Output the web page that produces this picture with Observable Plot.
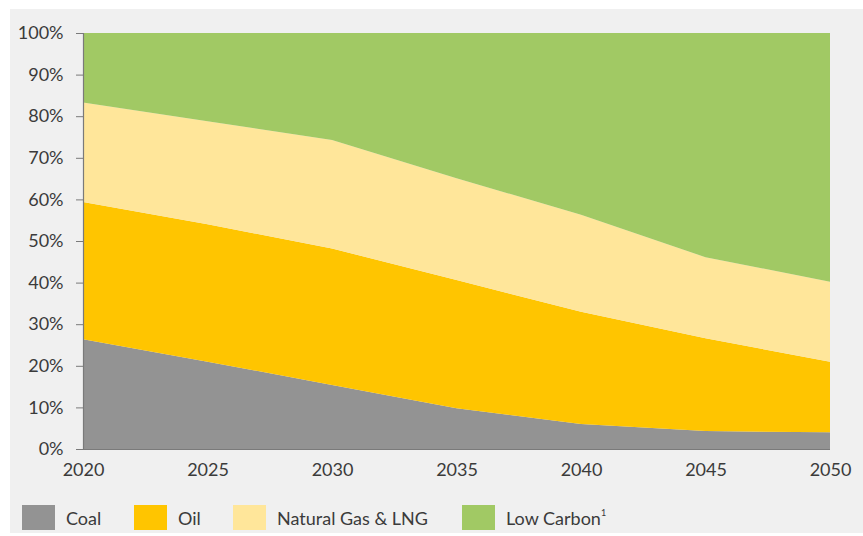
<!DOCTYPE html>
<html>
<head>
<meta charset="utf-8">
<script src="https://cdn.jsdelivr.net/npm/d3@7"></script>
<script src="https://cdn.jsdelivr.net/npm/@observablehq/plot@0.6"></script>
<style>
  html, body { margin: 0; padding: 0; background: #ffffff; }
  body { width: 863px; height: 536px; position: relative; overflow: hidden;
         font-family: "Lato", "Open Sans", sans-serif; }
  #panel { position: absolute; left: 10px; top: 9px; width: 853px; height: 524px; background: #f0f0f0; }
  #chart { position: absolute; left: 0; top: 0; }
  #legend { position: absolute; left: 0; top: 496px; height: 25px; width: 853px; }
  .item { position: absolute; top: 0; height: 25px; display: flex; align-items: center;
          font-size: 18px; color: #3b3b3b; white-space: nowrap; }
  .sw { width: 33px; height: 25px; margin-right: 11px; flex: none; }
  .item sup { font-size: 9px; position: relative; top: -2px; }
</style>
</head>
<body>
<div id="panel">
  <div id="chart"></div>
  <div id="legend"></div>
</div>
<script>
// Share of primary energy by source, percent
const years = [2020, 2025, 2030, 2035, 2040, 2045, 2050];
const coal = [26.4, 21.0, 15.4, 9.8, 6.0, 4.3, 4.0];
const oil = [33.0, 33.0, 32.8, 30.8, 27.0, 22.3, 17.0];
const gas = [23.9, 24.8, 26.1, 24.5, 23.3, 19.5, 19.2];
const lowCarbon = [16.7, 21.2, 25.7, 34.9, 43.7, 53.9, 59.8];

const sources = ["Coal", "Oil", "Natural Gas & LNG", "Low Carbon"];
const colors = ["#939393", "#ffc500", "#ffe69a", "#a1c964"];
const yTicks = [0, 10, 20, 30, 40, 50, 60, 70, 80, 90, 100];
const xTicks = [2020, 2025, 2030, 2035, 2040, 2045, 2050];

const seriesValues = [coal, oil, gas, lowCarbon];
const rows = [];
sources.forEach((s, i) => {
  years.forEach((yr, j) => rows.push({ year: yr, source: s, value: seriesValues[i][j] }));
});

const chart = Plot.plot({
  width: 853,
  height: 490,
  marginLeft: 73,
  marginRight: 33,
  marginTop: 24,
  marginBottom: 50,
  style: { background: "transparent", fontFamily: "Lato, 'Open Sans', sans-serif", fontSize: "18px", color: "#3b3b3b" },
  x: { domain: [2020, 2050], label: null, ticks: xTicks, tickFormat: d => String(d), tickSize: 0, tickPadding: 14 },
  y: { domain: [0, 100], label: null, ticks: yTicks, tickFormat: d => d + "%", tickSize: 7, tickPadding: 13 },
  color: { domain: sources, range: colors },
  marks: [
    Plot.areaY(rows, { x: "year", y: "value", fill: "source", order: sources }),
    Plot.ruleX([2020], { stroke: "#7a7a7a", strokeWidth: 1.2 }),
    Plot.ruleY([0], { stroke: "#7a7a7a", strokeWidth: 1.2 })
  ]
});
chart.querySelectorAll("g[aria-label='y-axis tick'] path, g[aria-label='y-axis tick']").forEach(el => el.setAttribute("stroke", "#7a7a7a"));
document.getElementById("chart").appendChild(chart);

// Legend
const legendX = [12, 124, 223, 452];
const legend = document.getElementById("legend");
sources.forEach((s, i) => {
  const item = document.createElement("div");
  item.className = "item";
  item.style.left = legendX[i] + "px";
  const sw = document.createElement("div");
  sw.className = "sw";
  sw.style.background = colors[i];
  item.appendChild(sw);
  const label = document.createElement("span");
  label.textContent = s;
  if (s === "Low Carbon") {
    const sup = document.createElement("sup");
    sup.textContent = "1";
    label.appendChild(sup);
  }
  item.appendChild(label);
  legend.appendChild(item);
});
</script>
</body>
</html>
